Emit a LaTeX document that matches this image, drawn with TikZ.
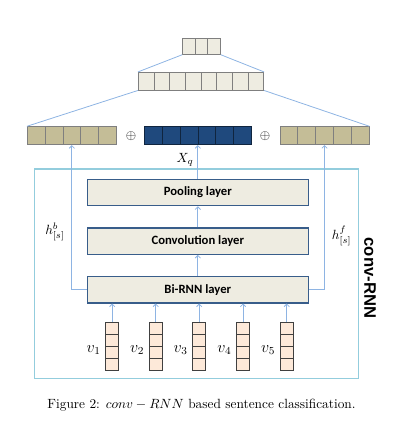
\documentclass[tikz,border=0pt]{standalone}
\usepackage{fontspec}
\newfontfamily\layerfont{Carlito}
\newfontfamily\tagfont{Liberation Sans}
\usepackage{tikz}
\usetikzlibrary{positioning,arrows.meta}

\definecolor{lineblue}{HTML}{8EB4E3}
\definecolor{framecyan}{HTML}{93CDDD}
\definecolor{beige}{HTML}{EEECE1}
\definecolor{layerborder}{HTML}{385D8A}
\definecolor{tan}{HTML}{C4BD97}
\definecolor{navy}{HTML}{1F497D}
\definecolor{navyborder}{HTML}{10253F}
\definecolor{peach}{HTML}{FDE9D9}
\definecolor{cellgray}{HTML}{7F7F7F}
\definecolor{vecborder}{HTML}{404040}

\begin{document}
\begin{tikzpicture}[
    x=0.75pt, y=-0.75pt, node distance=15.75pt,
    layer/.style={draw=layerborder, line width=0.9pt, fill=beige,
                  minimum width=165.75pt, minimum height=19.8pt,
                  font=\layerfont\bfseries\fontsize{9.5}{11}\selectfont},
    divline/.style={cellgray},
    cells/.style n args={3}{draw=cellgray, line width=0.6pt, inner sep=0pt,
                  minimum width=#1*#2, minimum height=#3,
                  path picture={\pgfmathtruncatemacro\nsplit{#1-1}
                    \foreach \k in {1,...,\nsplit}
                      \draw[divline, line width=0.6pt]
                        ([xshift=\k*#2]path picture bounding box.north west) --
                        ([xshift=\k*#2]path picture bounding box.south west);}},
    vec/.style={draw=vecborder, line width=0.6pt, fill=peach, inner sep=0pt,
                minimum width=9.75pt, minimum height=36pt,
                path picture={\foreach \k in {1,2,3}
                  \draw[vecborder, line width=0.6pt]
                    ([yshift=-\k*9pt]path picture bounding box.north west) --
                    ([yshift=-\k*9pt]path picture bounding box.north east);}},
    arr/.style={-{Straight Barb[length=2pt,width=4pt]}, lineblue, line width=0.6pt},
    link/.style={lineblue, line width=0.6pt}
  ]
    \useasboundingbox (0,0) rectangle (400,424);

    % upper feature maps
    \node[cells={3}{9.4pt}{12pt}, fill=beige] (top) at (201.5,46.3) {};
    \node[cells={8}{11.75pt}{13.3pt}, fill=beige] (mid) at (201,81.2) {};
    \node[cells={5}{13.35pt}{13.5pt}, fill=tan] (hb) at (71.8,135.7) {};
    \node[cells={6}{13.35pt}{13.5pt}, fill=navy, draw=navyborder,
          divline/.style={navyborder}] (xq) at (198,135.7) {};
    \node[cells={5}{13.35pt}{13.5pt}, fill=tan] (hf) at (324.5,135.7) {};
    \node (plus1) at (131,135.7) {$\oplus$};
    \node (plus2) at (265,135.7) {$\oplus$};

    \draw[link] (top.south west) -- (mid.north west);
    \draw[link] (top.south east) -- (mid.north east);
    \draw[link] (mid.south west) -- (hb.north west);
    \draw[link] (mid.south east) -- (hf.north east);

    % conv-RNN block
    \node[draw=framecyan, line width=1pt, minimum width=243pt,
          minimum height=157.3pt] (frame) at (196.3,273.85) {};
    \node[rotate=-90, font=\tagfont\bfseries\fontsize{12.5}{14}\selectfont]
      (tag) at (370,278) {conv-RNN};

    \node[layer] (pool) at (197.8,192.5) {Pooling layer};
    \node[layer, below=of pool] (conv) {Convolution layer};
    \node[layer, below=of conv] (birnn) {Bi-RNN layer};

    % word vectors
    \node[vec] (v1) at (112.2,346.3) {};
    \node[vec] (v2) at (155.7,346.3) {};
    \node[vec] (v3) at (199.2,346.3) {};
    \node[vec] (v4) at (243,346.3) {};
    \node[vec] (v5) at (286.7,346.3) {};
    \node[left=0pt of v1, yshift=-3pt, font=\large] (v1lab) {$v_1$};
    \node[left=0pt of v2, yshift=-3pt, font=\large] (v2lab) {$v_2$};
    \node[left=0pt of v3, yshift=-3pt, font=\large] (v3lab) {$v_3$};
    \node[left=0pt of v4, yshift=-3pt, font=\large] (v4lab) {$v_4$};
    \node[left=0pt of v5, yshift=-3pt, font=\large] (v5lab) {$v_5$};

    \draw[arr] (v1) -- (v1 |- birnn.south);
    \draw[arr] (v2) -- (v2 |- birnn.south);
    \draw[arr] (v3) -- (v3 |- birnn.south);
    \draw[arr] (v4) -- (v4 |- birnn.south);
    \draw[arr] (v5) -- (v5 |- birnn.south);
    \draw[arr] (birnn) -- (conv);
    \draw[arr] (conv) -- (pool);
    \draw[arr] (pool) -- (pool |- xq.south);
    \draw[arr] (birnn.west) -| (hb.south);
    \draw[arr] (birnn.east) -| (hf.south);

    \node (xqlab) at (185,159.5) {$X_q$};
    \node (hblab) at (55,231.7) {$h^{b}_{[s]}$};
    \node (hflab) at (341.7,236) {$h^{f}_{[s]}$};

    \node (caption) at (201.5,405) {Figure 2: $conv - RNN$ based sentence classification.};
  \end{tikzpicture}
\end{document}
